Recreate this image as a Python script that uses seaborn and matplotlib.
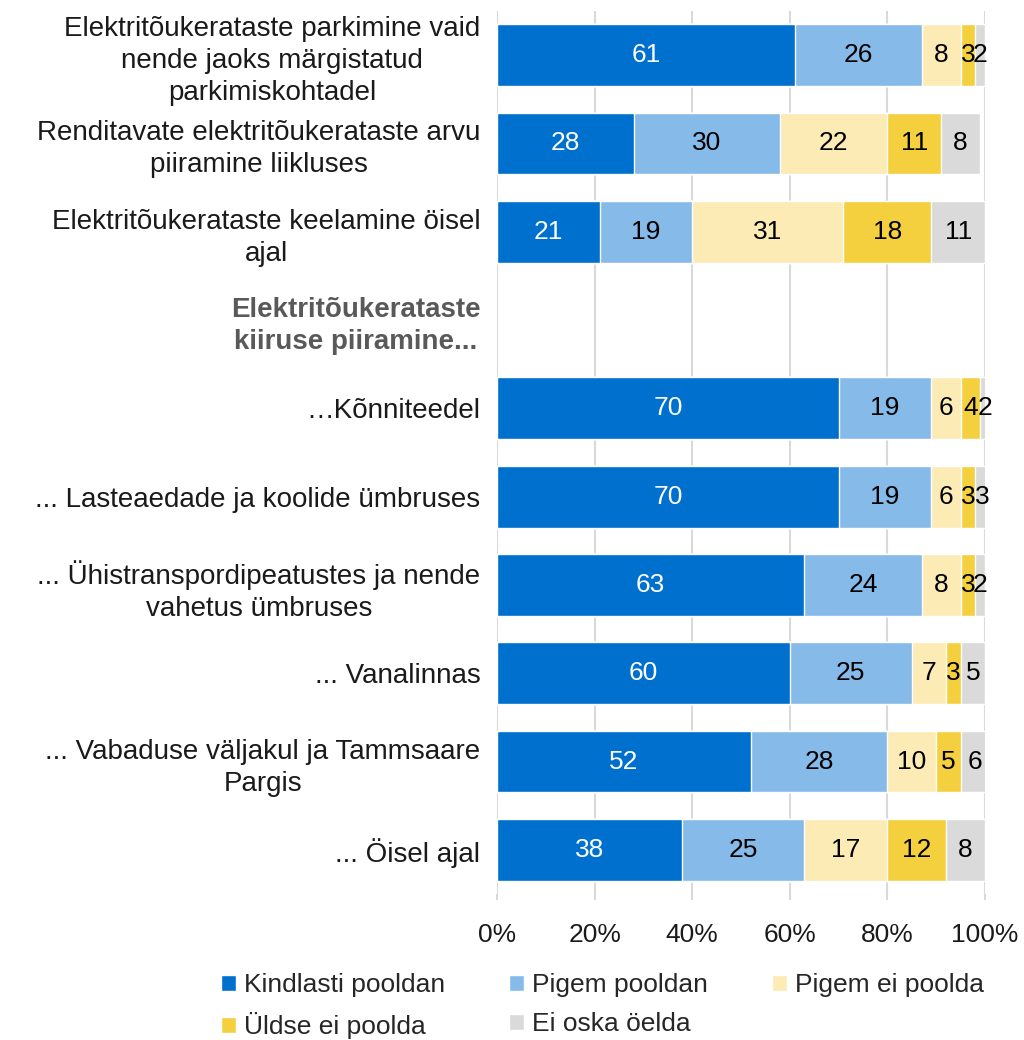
import numpy as np
import pandas as pd
import matplotlib
matplotlib.use("Agg")
import matplotlib.pyplot as plt
import seaborn as sns

# --- Data ---
heading = "Elektritõukerataste\nkiiruse piiramine..."
categories = [
    "Elektritõukerataste parkimine vaid\nnende jaoks märgistatud\nparkimiskohtadel",
    "Renditavate elektritõukerataste arvu\npiiramine liikluses",
    "Elektritõukerataste keelamine öisel\najal",
    heading,
    "…Kõnniteedel",
    "... Lasteaedade ja koolide ümbruses",
    "... Ühistranspordipeatustes ja nende\nvahetus ümbruses",
    "... Vanalinnas",
    "... Vabaduse väljakul ja Tammsaare\nPargis",
    "... Öisel ajal",
]
series_names = ["Kindlasti pooldan", "Pigem pooldan", "Pigem ei poolda",
                "Üldse ei poolda", "Ei oska öelda"]
kindlasti = [61, 28, 21, np.nan, 70, 70, 63, 60, 52, 38]
pigem = [26, 30, 19, np.nan, 19, 19, 24, 25, 28, 25]
pigem_ei = [8, 22, 31, np.nan, 6, 6, 8, 7, 10, 17]
yldse_ei = [3, 11, 18, np.nan, 4, 3, 3, 3, 5, 12]
ei_oska = [2, 8, 11, np.nan, 2, 3, 2, 5, 6, 8]
colors = ["#0070CE", "#86BAE9", "#FCEBB4", "#F4D03F", "#DADADA"]
text_colors = ["white", "black", "black", "black", "black"]

df = pd.DataFrame({"label": categories})
for name, vals in zip(series_names, [kindlasti, pigem, pigem_ei, yldse_ei, ei_oska]):
    df[name] = vals
df_bars = df.dropna().copy()
cum = df_bars[series_names].cumsum(axis=1)

# --- Setup ---
sns.set_theme(style="white")
plt.rcParams["font.family"] = ["Liberation Sans", "DejaVu Sans"]
fs = 19

fig = plt.figure(figsize=(10.24, 10.4), dpi=100)
ax = fig.add_axes([0.4854, 0.1404, 0.4765, 0.8490])

# stacked bars: draw cumulative totals, largest first
for i in reversed(range(len(series_names))):
    plot_df = pd.DataFrame({"label": df_bars["label"], "value": cum[series_names[i]]})
    sns.barplot(data=plot_df, y="label", x="value", order=categories, orient="h",
                color=colors[i], saturation=1, width=0.7, errorbar=None,
                label=series_names[i], ax=ax, zorder=3)

# value labels
for _, row in df_bars.iterrows():
    y = categories.index(row["label"])
    left = 0
    for name, tc in zip(series_names, text_colors):
        v = row[name]
        ax.text(left + v / 2, y, f"{int(v)}", ha="center", va="center",
                fontsize=fs, color=tc, zorder=5)
        left += v

ax.set_xlim(0, 100)
ax.set_ylim(len(categories) - 0.5, -0.5)
ax.set_xticks(range(0, 101, 20))
ax.set_xticklabels([f"{t}%" for t in range(0, 101, 20)])
ax.set_xlabel("")
ax.set_ylabel("")
ax.xaxis.grid(True, color="#D9D9D9", linewidth=1.5, zorder=0)
ax.set_axisbelow(True)
for s in ax.spines.values():
    s.set_visible(False)
ax.tick_params(axis="x", length=4, width=1.5, color="#D9D9D9", pad=17,
               labelsize=fs, labelcolor="#1a1a1a", bottom=True)
ax.tick_params(axis="y", length=0, pad=12, labelsize=20, labelcolor="#1a1a1a")
for lab in ax.get_yticklabels():
    lab.set_multialignment("center")
    lab.set_linespacing(1.3)
    if lab.get_text() == heading:
        lab.set_fontweight("bold")
        lab.set_color("#595959")

# legend in row-major order
handles, labels = ax.get_legend_handles_labels()
lookup = dict(zip(labels, handles))
order_idx = [0, 3, 1, 4, 2]
fig.legend([lookup[series_names[k]] for k in order_idx],
           [series_names[k] for k in order_idx],
           loc="upper left", bbox_to_anchor=(0.216, 0.064), ncol=3,
           frameon=False, fontsize=fs, handlelength=0.55, handleheight=0.55,
           handletextpad=0.3, columnspacing=2.45, labelspacing=0.55,
           borderpad=0, borderaxespad=0)
if ax.legend_:
    ax.legend_.remove()

plt.savefig("out.png", dpi=100)
plt.close()
